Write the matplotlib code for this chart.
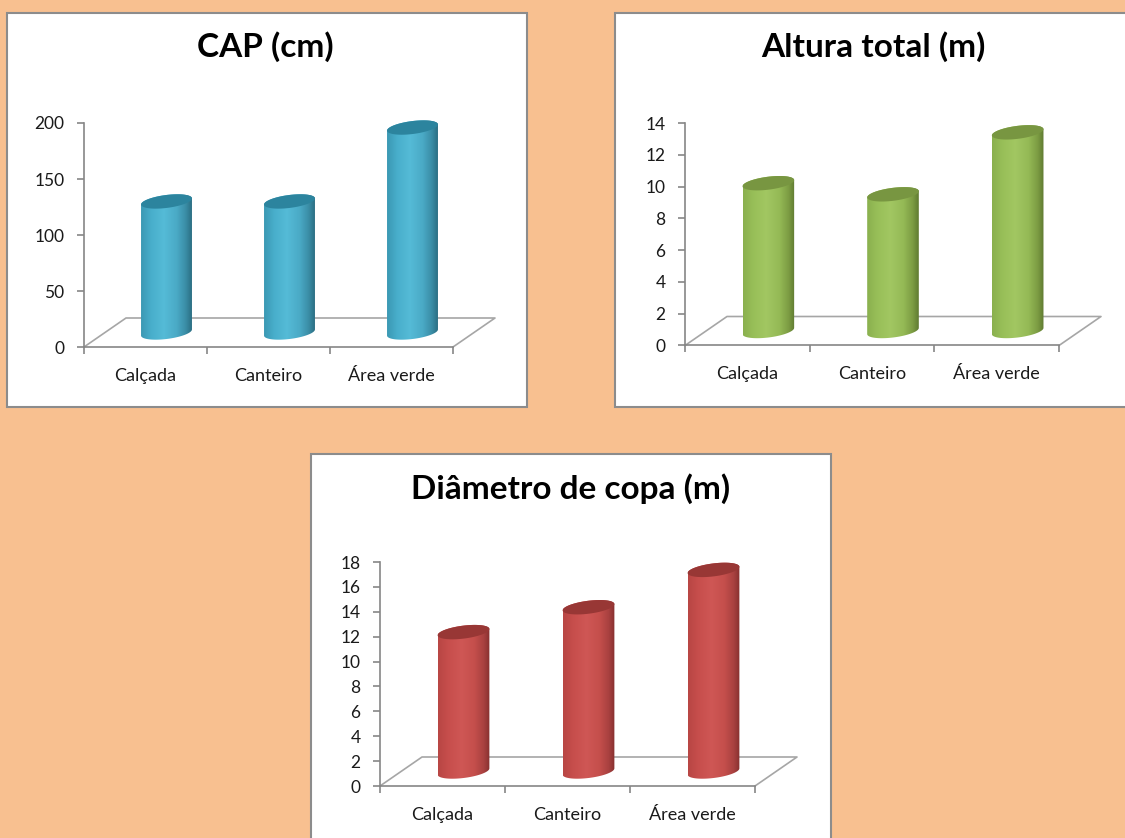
import numpy as np
import matplotlib
matplotlib.use('Agg')
import matplotlib.pyplot as plt
from matplotlib.patches import Polygon, Rectangle
from matplotlib.colors import LinearSegmentedColormap

categories = ['Calçada', 'Canteiro', 'Área verde']
cap_cm = [117, 117, 183]
altura_m = [9.3, 8.6, 12.5]
diametro_m = [11.2, 13.2, 16.2]

titles = ['CAP (cm)', 'Altura total (m)', 'Diâmetro de copa (m)']
y_max = [200, 14, 18]
y_step = [50, 2, 2]

plt.rcParams['font.family'] = ['Lato', 'DejaVu Sans']

W, H = 1125, 838
fig = plt.figure(figsize=(W / 100, H / 100), dpi=100, facecolor='#F8C090')


def fx(px):
    return px / W


def fy(py):
    return 1 - py / H


# white chart boxes, pixels: left, top, right, bottom
boxes = [(7, 13, 527, 407), (615, 13, 1131, 407), (311, 454, 831, 845)]
for l, t, r, b in boxes:
    fig.patches.append(Rectangle((fx(l), fy(b)), (r - l) / W, (b - t) / H,
                                 transform=fig.transFigure, facecolor='white',
                                 edgecolor='#8C8C8C', linewidth=1.5, zorder=-1))

# plot area in pixels: y-axis x, width of 3 categories, y of zero, y of max
geom = [(84, 369, 347, 123), (685, 374, 345.5, 123), (380, 375, 786, 562)]
title_pos = [(265, 47), (873, 47), (571, 489)]
depth = (42, 29)

cmaps = [
    LinearSegmentedColormap.from_list('blue', [(0, '#3B98B3'), (0.2, '#48AECB'), (0.45, '#55BBD7'),
                                               (0.7, '#4AAAC6'), (0.88, '#3A8DA6'), (1, '#2B6E83')]),
    LinearSegmentedColormap.from_list('green', [(0, '#8AB04E'), (0.2, '#98BF58'), (0.45, '#A2C762'),
                                                (0.7, '#95BA56'), (0.88, '#7C9C43'), (1, '#5F7A31')]),
    LinearSegmentedColormap.from_list('red', [(0, '#B84644'), (0.2, '#C74E4C'), (0.45, '#CF5755'),
                                              (0.7, '#C54F4C'), (0.88, '#A94140'), (1, '#86302F')]),
]
top_colors = ['#2C849E', '#789641', '#983735']


def draw_panel(values, title, ymax, step, g, cmap, top_color, tpos):
    x0, span, y0, ytop = g
    ppu = (y0 - ytop) / ymax
    ppx = span / 3
    R = x0 + span + depth[0] + 8
    T = ytop - 22
    ax = fig.add_axes([fx(x0), fy(y0), (R - x0) / W, (y0 - T) / H])
    ax.patch.set_visible(False)

    ddx = depth[0] / ppx
    ddy = depth[1] / ppu
    # floor
    ax.plot([0, ddx, 3 + ddx, 3], [0, ddy, ddy, 0], color='#A6A6A6', lw=1.2,
            zorder=1, clip_on=False)

    a = 0.207
    e = 6.5 / ppu
    s = 0.12 * ppx / ppu
    grad = np.linspace(0, 1, 256).reshape(1, -1)
    for i, v in enumerate(values):
        c = i + 0.5 + ddx / 2
        b = ddy / 2
        t = b + v

        def ell(yc, th):
            return c + a * np.cos(th), yc + e * np.sin(th) + s * a * np.cos(th)

        bx, by = ell(b, np.linspace(np.pi, 2 * np.pi, 60))
        tx, ty = ell(t, np.linspace(0, np.pi, 60))
        body = Polygon(np.column_stack([np.r_[bx, tx], np.r_[by, ty]]), closed=True,
                       facecolor='none', edgecolor='none')
        ax.add_patch(body)
        im = ax.imshow(grad, cmap=cmap, aspect='auto', interpolation='bilinear',
                       extent=(c - a, c + a, b - 3 * e, t + 3 * e), zorder=2)
        im.set_clip_path(body)
        ex, ey = ell(t, np.linspace(0, 2 * np.pi, 120))
        ax.fill(ex, ey, color=top_color, lw=0, zorder=3)

    ax.set_xlim(0, (R - x0) / ppx)
    ax.set_ylim(0, (y0 - T) / ppu)
    for side in ['top', 'right']:
        ax.spines[side].set_visible(False)
    ax.spines['left'].set_bounds(0, ymax)
    ax.spines['bottom'].set_bounds(0, 3)
    for side in ['left', 'bottom']:
        ax.spines[side].set_color('#868686')
        ax.spines[side].set_linewidth(1.2)

    ax.set_xticks([0, 1, 2, 3])
    ax.set_xticklabels([])
    ax.set_xticks([0.5, 1.5, 2.5], minor=True)
    ax.set_xticklabels(categories, minor=True)
    ax.tick_params(axis='x', which='major', length=5, width=1.2, color='#868686')
    ax.tick_params(axis='x', which='minor', length=0, pad=15, labelsize=13, labelcolor='#1A1A1A')
    yt = list(range(0, ymax + 1, step))
    ax.set_yticks(yt)
    ax.set_yticklabels([str(v) for v in yt])
    ax.tick_params(axis='y', length=5, width=1.2, color='#868686', pad=9,
                   labelsize=12.5, labelcolor='#1A1A1A')

    fig.text(fx(tpos[0]), fy(tpos[1]), title, ha='center', va='center',
             fontsize=24, fontweight='bold', color='black')


series = [cap_cm, altura_m, diametro_m]
for k in range(3):
    draw_panel(series[k], titles[k], y_max[k], y_step[k], geom[k], cmaps[k],
               top_colors[k], title_pos[k])

fig.savefig('out.png', dpi=100, facecolor=fig.get_facecolor())
